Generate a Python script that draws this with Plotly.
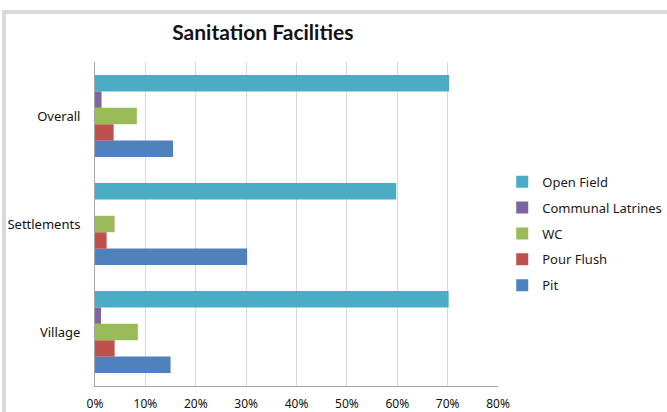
import plotly.graph_objects as go

# categories, top to bottom as shown in the chart
places = ["Overall", "Settlements", "Village"]

# share of households per facility (fraction)
open_field = [0.703, 0.598, 0.702]
communal_latrines = [0.013, 0.0, 0.012]
wc = [0.083, 0.039, 0.085]
pour_flush = [0.037, 0.023, 0.039]
pit = [0.155, 0.302, 0.150]

x_ticks = [0, 0.1, 0.2, 0.3, 0.4, 0.5, 0.6, 0.7, 0.8]

# bottom-to-top inside each group: Pit ... Open Field
series = [
    ("Pit", pit, "#4F81BD"),
    ("Pour Flush", pour_flush, "#C0504D"),
    ("WC", wc, "#9BBB59"),
    ("Communal Latrines", communal_latrines, "#8064A2"),
    ("Open Field", open_field, "#4BACC6"),
]

fig = go.Figure()
for i, (name, vals, color) in enumerate(series):
    fig.add_trace(go.Bar(
        y=places, x=vals, name=name, orientation="h",
        marker=dict(color=color, line=dict(width=0)),
        legendgroup=name, legendrank=len(series) - i,
    ))

fig.update_layout(
    width=667, height=412,
    margin=dict(l=95, r=169, t=62, b=26, autoexpand=False),
    paper_bgcolor="white", plot_bgcolor="white",
    font=dict(family="Noto Sans, DejaVu Sans, sans-serif", size=12, color="#1a1a1a"),
    title=dict(text="<b>Sanitation Facilities</b>", x=0.394, xanchor="center",
               xref="container", y=0.92, yanchor="middle",
               font=dict(family="Lato, Noto Sans, sans-serif", size=21, color="#111111")),
    barmode="group", bargap=0.24, bargroupgap=0,
    showlegend=True,
    legend=dict(x=1.0105, xanchor="left", y=0.47, yanchor="middle",
                traceorder="grouped", tracegroupgap=6,
                font=dict(size=13, color="#1a1a1a"),
                bgcolor="rgba(0,0,0,0)"),
)

fig.update_xaxes(
    range=[0, 0.8], tickvals=x_ticks, tickformat=".0%",
    showgrid=True, gridcolor="#d9d9d9", gridwidth=1,
    showline=True, linecolor="#a6a6a6", linewidth=1,
    zeroline=False, ticks="", ticklabelstandoff=7, automargin=False,
    tickfont=dict(size=12, color="#111111"),
)
fig.update_yaxes(
    categoryorder="array", categoryarray=places[::-1],
    showgrid=False, showline=True, linecolor="#a6a6a6", linewidth=1,
    ticks="", ticklabelstandoff=11, automargin=False,
    tickfont=dict(size=13, color="#111111"),
)

# light grey chart frame (top and left edges visible)
fig.add_shape(type="rect", xref="paper", yref="paper",
              x0=-0.2258, x1=1.6, y0=-0.3, y1=1.154,
              line=dict(color="#d9d9d9", width=4), layer="below")

# drop the page's default body margin so the figure sits at the top-left corner
fig.write_html("out.html", config={"displayModeBar": False},
               post_script="document.body.style.margin='0px';")
